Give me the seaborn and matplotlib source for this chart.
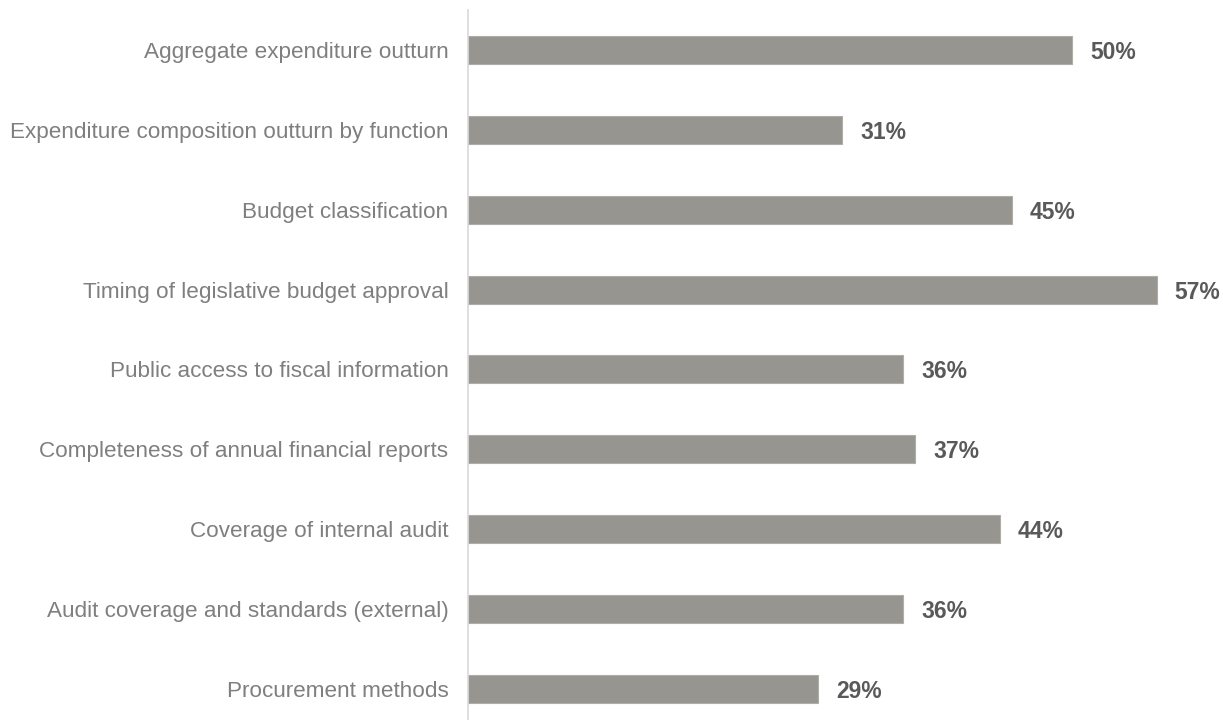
import seaborn as sns
import matplotlib.pyplot as plt
import pandas as pd

categories = [
    "Aggregate expenditure outturn",
    "Expenditure composition outturn by function",
    "Budget classification",
    "Timing of legislative budget approval",
    "Public access to fiscal information",
    "Completeness of annual financial reports",
    "Coverage of internal audit",
    "Audit coverage and standards (external)",
    "Procurement methods",
]
shares = [50, 31, 45, 57, 36, 37, 44, 36, 29]

df = pd.DataFrame({"indicator": categories, "share": shares})

sns.set_theme(style="white")
plt.rcParams['font.family'] = ['Liberation Sans', 'DejaVu Sans']

fig = plt.figure(figsize=(12.23, 7.2), dpi=100)
ax = fig.add_axes([0.3827, 0.0, 0.5926, 0.9861])

sns.barplot(data=df, x="share", y="indicator", orient="h", color="#96958f",
            saturation=1, width=0.35, edgecolor="#aeada8", linewidth=0.8, ax=ax)

for i, v in enumerate(shares):
    ax.text(v + 1.5, i, f"{v}%", va="center_baseline", ha="left", fontsize=16.5,
            fontweight="bold", color="#595959")

ax.set_xlim(0, 60)
ax.set_ylim(8.39, -0.5)
ax.set_xlabel("")
ax.set_ylabel("")
ax.set_xticks([])
ax.tick_params(axis="y", length=0, pad=14, labelsize=16.2, labelcolor="#7f7f7f")
for s in ["top", "right", "bottom"]:
    ax.spines[s].set_visible(False)
ax.spines["left"].set_color("#d9d9d9")
ax.spines["left"].set_linewidth(1.2)

fig.savefig("out.png", dpi=100)
